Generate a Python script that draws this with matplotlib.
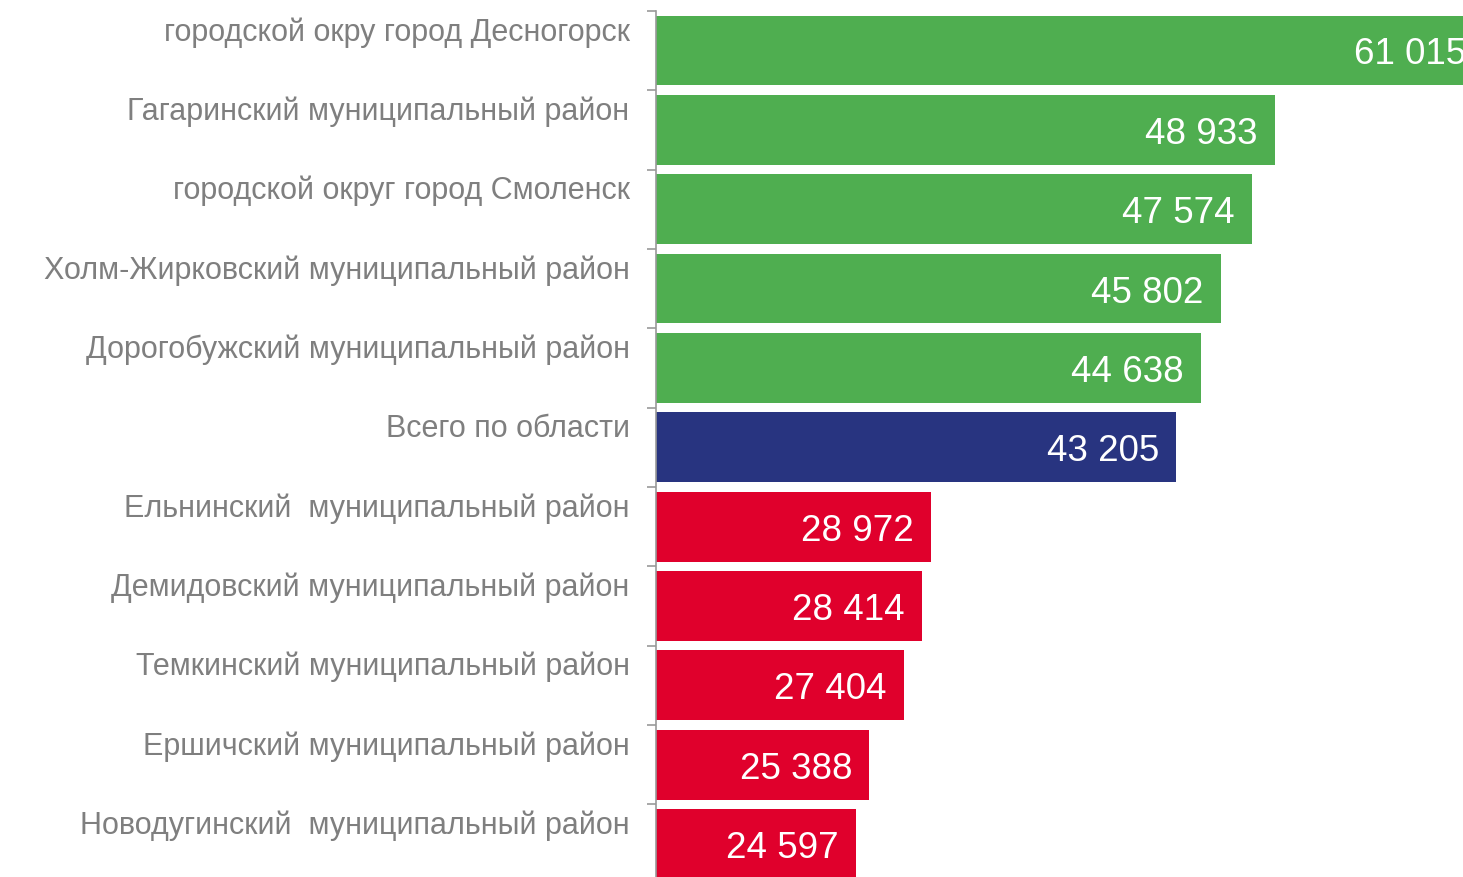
import matplotlib
matplotlib.use("Agg")
import matplotlib.pyplot as plt
import numpy as np

plt.rcParams['font.family'] = ['Liberation Sans', 'DejaVu Sans']

# Districts, top to bottom as drawn
districts = [
    "городской окру город Десногорск",
    "Гагаринский муниципальный район",
    "городской округ город Смоленск",
    "Холм-Жирковский муниципальный район",
    "Дорогобужский муниципальный район",
    "Всего по области",
    "Ельнинский  муниципальный район",
    "Демидовский муниципальный район",
    "Темкинский муниципальный район",
    "Ершичский муниципальный район",
    "Новодугинский  муниципальный район",
]
values = [61015, 48933, 47574, 45802, 44638, 43205, 28972, 28414, 27404, 25388, 24597]
groups = ["top", "top", "top", "top", "top", "total",
          "bottom", "bottom", "bottom", "bottom", "bottom"]

group_colors = {"top": "#4FAE50", "total": "#283480", "bottom": "#E0002C"}
label_grey = "#7F7F7F"

fig = plt.figure(figsize=(14.63, 8.78), dpi=100)
ax = fig.add_axes([656 / 1463, 0.0, 1 - 656 / 1463, 1.0])

y = np.arange(len(districts))
colors = [group_colors[g] for g in groups]
ax.barh(y, values, height=0.88, color=colors, zorder=2)

ax.set_xlim(13000, 59850)
ax.set_ylim(10.416, -0.649)

# value labels inside bar ends
for yi, v in zip(y, values):
    txt = f"{v:,}".replace(",", " ")
    ax.annotate(txt, xy=(v, yi), xytext=(-12.5, -2.5), textcoords="offset points",
                ha="right", va="center", color="white", fontsize=26.5,
                annotation_clip=False)

# category labels sit a bit above the bar centres
ax.set_yticks(y - 0.285)
ax.set_yticklabels(districts, fontsize=22, color=label_grey)
ax.tick_params(axis="y", which="major", length=0, pad=19)
ax.set_yticks(np.arange(len(districts)) - 0.5, minor=True)
ax.tick_params(axis="y", which="minor", length=6.5, width=1.2, color="#999999",
               direction="out")

ax.xaxis.set_visible(False)
for s in ["top", "right", "bottom"]:
    ax.spines[s].set_visible(False)
ax.spines["left"].set_color("#999999")
ax.spines["left"].set_linewidth(1.2)
ax.spines["left"].set_bounds(-0.5, 10.416)
ax.spines["left"].set_zorder(3)

fig.savefig("out.png", dpi=100)
